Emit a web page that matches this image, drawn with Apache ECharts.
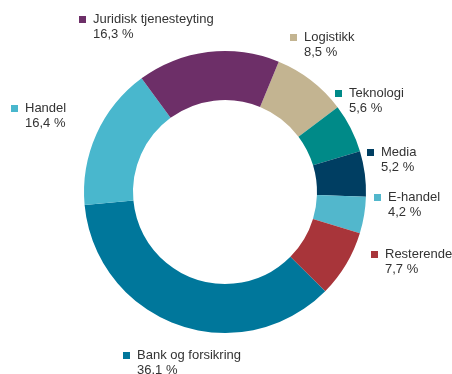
<!DOCTYPE html>
<html>
<head>
<meta charset="utf-8">
<script src="https://cdn.jsdelivr.net/npm/echarts@6/dist/echarts.min.js"></script>
<style>
  html, body { margin: 0; padding: 0; background: #ffffff; }
  #chart { width: 452px; height: 374px; }
</style>
</head>
<body>
<div id="chart"></div>
<script>
// Sector shares, listed clockwise starting from Logistikk
const categories = ['Logistikk', 'Teknologi', 'Media', 'E-handel', 'Resterende', 'Bank og forsikring', 'Handel', 'Juridisk tjenesteyting'];
const shares = [8.5, 5.6, 5.2, 4.2, 7.7, 36.1, 16.4, 16.3];
const shareLabels = ['8,5 %', '5,6 %', '5,2 %', '4,2 %', '7,7 %', '36.1 %', '16,4 %', '16,3 %'];

const colors = ['#c3b491', '#008a88', '#003e62', '#52b7cc', '#a8353a', '#00779b', '#49b7cd', '#6d2f68'];
// Label anchor (left edge of the marker square, top of the text block)
const labelAnchors = [[290, 30], [335, 86], [367, 145], [374, 190], [371, 247], [123, 348], [11, 101], [79, 12]];

const rich = {
  gap: { width: 7, height: 7 },
  ind: { width: 14, height: 7 },
  t: { fontSize: 13, lineHeight: 15, color: '#333333', fontFamily: 'Liberation Sans, Arial, sans-serif' }
};
colors.forEach((c, i) => { rich['s' + i] = { width: 7, height: 7, backgroundColor: c }; });

const chart = echarts.init(document.getElementById('chart'), null, { renderer: 'canvas' });
chart.setOption({
  animation: false,
  color: colors,
  series: [{
    type: 'pie',
    center: [225, 192],
    radius: [92, 141],
    startAngle: 67.6,
    clockwise: true,
    avoidLabelOverlap: false,
    emphasis: { disabled: true },
    itemStyle: { borderWidth: 0 },
    label: {
      show: true,
      position: 'outside',
      lineHeight: 15,
      formatter: p => '{s' + p.dataIndex + '|}{gap|}{t|' + p.name + '}\n{ind|}{t|' + shareLabels[p.dataIndex] + '}',
      rich: rich
    },
    labelLine: { show: false },
    labelLayout: p => ({
      x: labelAnchors[p.dataIndex][0],
      y: labelAnchors[p.dataIndex][1],
      align: 'left',
      verticalAlign: 'top'
    }),
    data: categories.map((n, i) => ({ name: n, value: shares[i] }))
  }]
});
</script>
</body>
</html>
